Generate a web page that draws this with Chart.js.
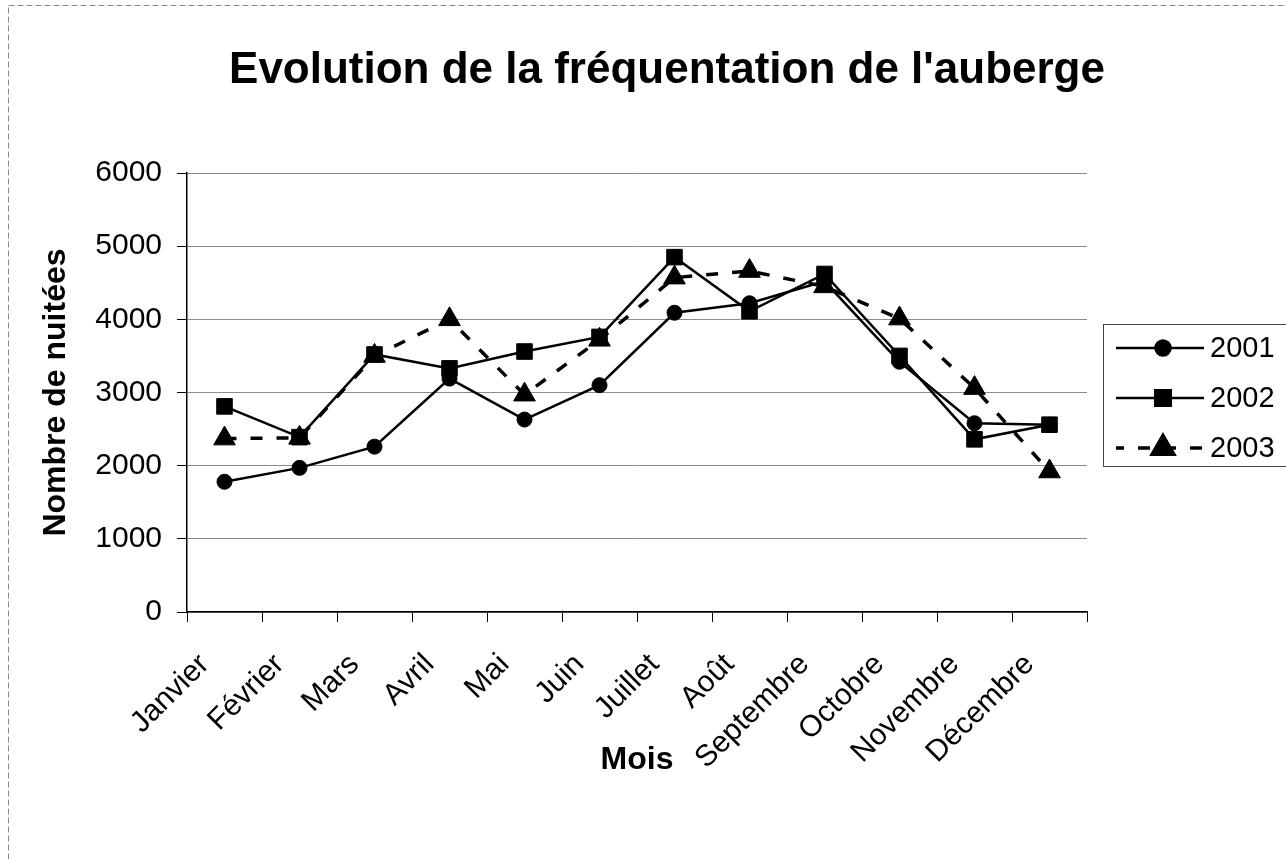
<!DOCTYPE html>
<html>
<head>
<meta charset="utf-8">
<script src="https://cdn.jsdelivr.net/npm/chart.js@4"></script>
<style>
  html, body { margin: 0; padding: 0; background: #fff; }
  #wrap { width: 1286px; height: 859px; }
</style>
</head>
<body>
<div id="wrap"><canvas id="line-chart" width="1286" height="859"></canvas></div>
<script>
const months = ['Janvier', 'Février', 'Mars', 'Avril', 'Mai', 'Juin', 'Juillet', 'Août', 'Septembre', 'Octobre', 'Novembre', 'Décembre'];
const y2001 = [1780, 1970, 2260, 3190, 2630, 3100, 4090, 4220, 4520, 3420, 2580, 2560];
const y2002 = [2810, 2390, 3520, 3330, 3560, 3760, 4850, 4110, 4620, 3500, 2360, 2560];
const y2003 = [2370, 2380, 3500, 4000, 2970, 3720, 4570, 4660, 4450, 4010, 3060, 1920];
const yTicks = [0, 1000, 2000, 3000, 4000, 5000, 6000];
const chartTitle = "Evolution de la fréquentation de l'auberge";

const FONT = "'Liberation Sans', Arial, sans-serif";

// title centred over the whole picture, like the excel original
const topTitle = {
  id: 'topTitle',
  afterDraw(chart) {
    const ctx = chart.ctx;
    ctx.save();
    ctx.fillStyle = '#000';
    ctx.font = 'bold 44px ' + FONT;
    ctx.textAlign = 'center';
    ctx.textBaseline = 'alphabetic';
    ctx.fillText(chartTitle, 667, 83);
    ctx.restore();
  }
};

// legend box beside the plot, line + marker like the original
const sideLegend = {
  id: 'sideLegend',
  afterDraw(chart) {
    const ctx = chart.ctx;
    const x0 = 1103, y0 = 324, w = 200, h = 142;
    ctx.save();
    ctx.strokeStyle = '#444';
    ctx.lineWidth = 1;
    ctx.strokeRect(x0 + 0.5, y0 + 0.5, w, h);
    chart.data.datasets.forEach((ds, i) => {
      const cy = y0 + 24 + i * 50;
      ctx.strokeStyle = '#000';
      ctx.lineWidth = ds.borderWidth;
      ctx.setLineDash(ds.borderDash || []);
      ctx.lineDashOffset = ds.borderDash && ds.borderDash.length ? 4 : 0;
      ctx.beginPath();
      ctx.moveTo(x0 + 13, cy);
      ctx.lineTo(x0 + 101, cy);
      ctx.stroke();
      ctx.setLineDash([]);
      ctx.fillStyle = '#000';
      Chart.helpers.drawPoint(ctx, {
        pointStyle: ds.pointStyle, radius: ds.pointRadius, borderWidth: 1
      }, x0 + 60, cy);
      ctx.font = '29px ' + FONT;
      ctx.textBaseline = 'middle';
      ctx.fillText(ds.label, x0 + 107, cy + 1);
    });
    ctx.restore();
  }
};

const frame = {
  id: 'frame',
  beforeDraw(chart) {
    const ctx = chart.ctx;
    ctx.save();
    ctx.fillStyle = '#fff';
    ctx.fillRect(0, 0, chart.width, chart.height);
    ctx.strokeStyle = '#888';
    ctx.lineWidth = 1;
    ctx.setLineDash([6, 3]);
    ctx.strokeRect(8.5, 5.5, 1300, 900);
    ctx.restore();
  }
};

function series(label, data, style, radius, width, dash) {
  return {
    label: label,
    data: data,
    borderColor: '#000',
    backgroundColor: '#000',
    borderWidth: width,
    borderDash: dash,
    pointStyle: style,
    pointRadius: radius,
    pointHoverRadius: radius,
    pointBackgroundColor: '#000',
    pointBorderColor: '#000',
    pointBorderWidth: 1,
    tension: 0
  };
}

new Chart(document.getElementById('line-chart'), {
  type: 'line',
  data: {
    labels: months,
    datasets: [
      series('2001', y2001, 'circle', 7.5, 2.5, []),
      series('2002', y2002, 'rect', 11, 2.5, []),
      series('2003', y2003, 'triangle', 12.5, 3.5, [12, 14])
    ]
  },
  plugins: [frame, sideLegend, topTitle],
  options: {
    responsive: false,
    animation: false,
    layout: { padding: { left: 33, right: 199, top: 173, bottom: 76 } },
    plugins: {
      legend: { display: false },
      tooltip: { enabled: false },
      title: { display: false }
    },
    scales: {
      x: {
        offset: true,
        afterFit(scale) { scale.height = 171; },
        grid: {
          offset: true,
          drawOnChartArea: false,
          color: '#000',
          tickLength: 10,
          tickColor: '#000'
        },
        border: { color: '#000', width: 1.5 },
        ticks: {
          color: '#000',
          font: { family: FONT, size: 30 },
          minRotation: 45,
          maxRotation: 45,
          autoSkip: false,
          labelOffset: -20,
          padding: 25
        },
        title: {
          display: true,
          text: 'Mois',
          color: '#000',
          font: { family: FONT, size: 32, weight: 'bold' },
          padding: { top: 4, bottom: 4 }
        }
      },
      y: {
        min: 0,
        max: 6000,
        afterFit(scale) { scale.width = 154; },
        afterBuildTicks(scale) { scale.ticks = yTicks.map(v => ({ value: v })); },
        grid: {
          color: '#8c8c8c',
          lineWidth: 1,
          tickLength: 10,
          tickColor: '#000'
        },
        border: { color: '#000', width: 1.5 },
        ticks: {
          color: '#000',
          font: { family: FONT, size: 30 },
          padding: 15,
          callback: v => String(v)
        },
        title: {
          display: true,
          text: 'Nombre de nuitées',
          color: '#000',
          font: { family: FONT, size: 32, weight: 'bold' },
          padding: { top: 4, bottom: 4 }
        }
      }
    }
  }
});
</script>
</body>
</html>
